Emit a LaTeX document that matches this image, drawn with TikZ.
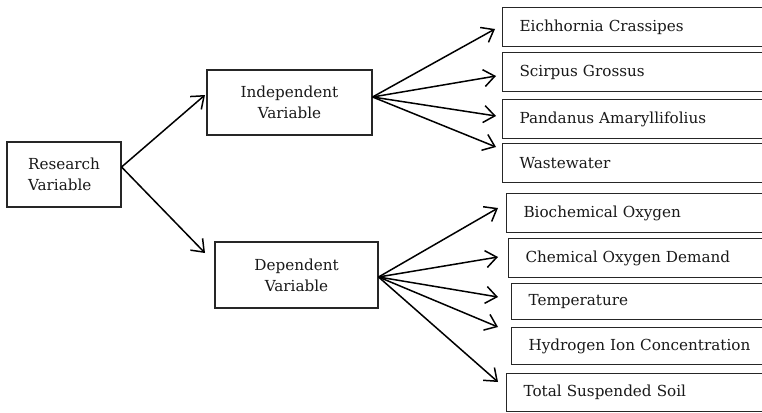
\documentclass[tikz,border=0pt]{standalone}
\usepackage{fontspec}
\setmainfont{DejaVu Serif}
\usetikzlibrary{arrows.meta}
\begin{document}
\begin{tikzpicture}[x=1pt,y=-1pt,
  box/.style={draw=black!85, line width=1.1pt, inner sep=0pt, align=center,
    font=\fontsize{15.2}{21}\selectfont, text=black!90},
  rbox/.style={draw=black!85, line width=1.1pt, anchor=north west, inner xsep=17pt, inner ysep=0pt,
    text width=236pt, align=left, font=\fontsize{15.2}{18}\selectfont, text=black!90},
  arr/.style={line width=1.5pt, -{Straight Barb[length=11pt,width=17pt,line width=1.5pt]}}]
\useasboundingbox (0,0) rectangle (762,412);
\fill[white] (0,0) rectangle (762,412);
\begin{scope}
\clip (0,0) rectangle (762,412);
% left boxes
\node[box, minimum width=114pt, minimum height=65pt, align=left] (res) at (64,174.5) {Research\\Variable};
\node[box, minimum width=165pt, minimum height=65pt] (ind) at (289.5,102.5) {Independent\\Variable};
\node[box, minimum width=163pt, minimum height=66pt] (dep) at (296.5,275) {Dependent\\Variable};
% right boxes, top group
\node[rbox, minimum height=39pt] (e1) at (502,7) {Eichhornia Crassipes};
\node[rbox, minimum height=39pt] (e2) at (502,52) {Scirpus Grossus};
\node[rbox, minimum height=39pt] (e3) at (502,99) {Pandanus Amaryllifolius};
\node[rbox, minimum height=39pt] (e4) at (502,143) {Wastewater};
% right boxes, bottom group
\node[rbox, minimum height=39pt] (d1) at (506,193) {Biochemical Oxygen};
\node[rbox, minimum height=39pt] (d2) at (508,238) {Chemical Oxygen Demand};
\node[rbox, minimum height=36pt] (d3) at (511,283) {Temperature};
\node[rbox, minimum height=37pt] (d4) at (511,327) {Hydrogen Ion Concentration};
\node[rbox, minimum height=38pt] (d5) at (506,373) {Total Suspended Soil};
\end{scope}
% arrow end points
\coordinate (resout) at ([yshift=7.5pt]res.east);
\coordinate (tind) at (205,95);
\coordinate (tdep) at (205,253);
\coordinate (indout) at ([yshift=5.5pt]ind.east);
\coordinate (depout) at ([yshift=-2pt]dep.east);
\coordinate (te1) at (495,29);
\coordinate (te2) at (496,76);
\coordinate (te3) at (496,116);
\coordinate (te4) at (496,147);
\coordinate (td1) at (498,208);
\coordinate (td2) at (498,257);
\coordinate (td3) at (498,297);
\coordinate (td4) at (498,327);
\coordinate (td5) at (498,382);
% arrows
\draw[arr] (resout) -- (tind);
\draw[arr] (resout) -- (tdep);
\foreach \t in {te1,te2,te3,te4} \draw[arr] (indout) -- (\t);
\foreach \t in {td1,td2,td3,td4,td5} \draw[arr] (depout) -- (\t);
\end{tikzpicture}
\end{document}
